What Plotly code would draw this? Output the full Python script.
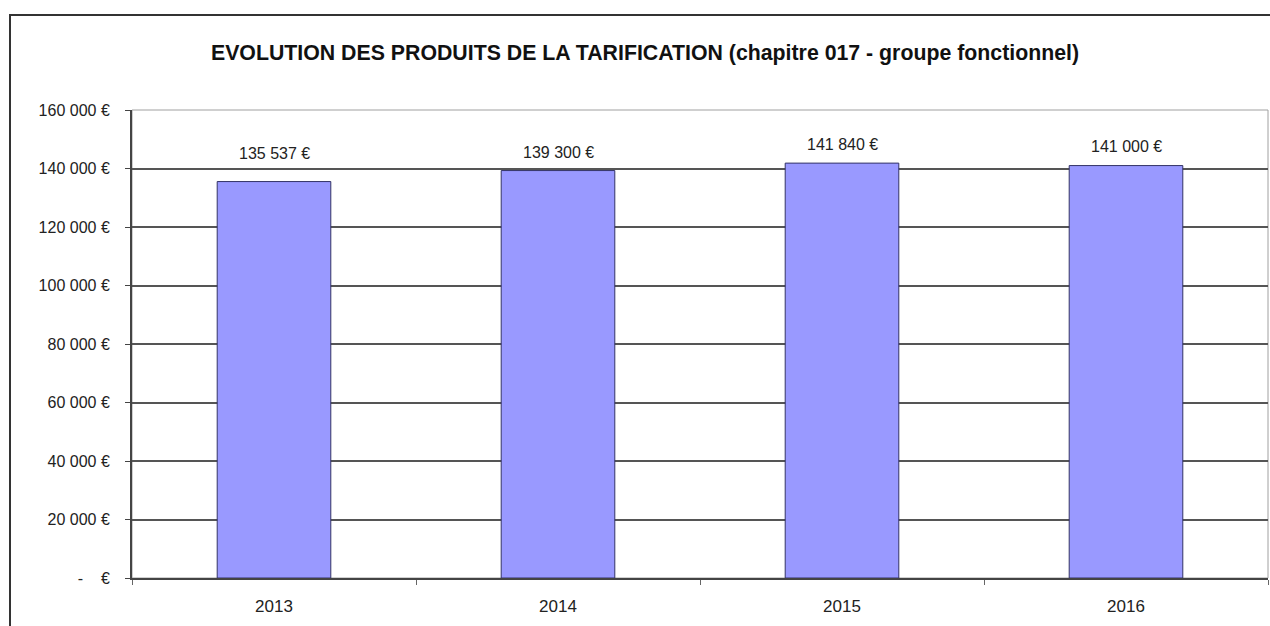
import plotly.graph_objects as go

years = ["2013", "2014", "2015", "2016"]
values = [135537, 139300, 141840, 141000]
value_labels = ["135 537 €", "139 300 €", "141 840 €", "141 000 €"]
y_ticks = [0, 20000, 40000, 60000, 80000, 100000, 120000, 140000, 160000]
y_tick_labels = ["-    €", "20 000 €", "40 000 €", "60 000 €", "80 000 €",
                 "100 000 €", "120 000 €", "140 000 €", "160 000 €"]
title = "EVOLUTION DES PRODUITS DE LA TARIFICATION (chapitre 017 - groupe fonctionnel)"

# style: vertical pixel offset of each value label centre above its bar
label_offsets = [28, 18, 19, 19]

FONT = "Liberation Sans, Arial, sans-serif"
TXT = "#222"

W, H = 1270, 626
ML, MR, MT, MB = 132, 2, 110, 48
PW, PH = W - ML - MR, H - MT - MB

fig = go.Figure()
fig.add_trace(go.Bar(
    x=years, y=values, width=0.4,
    marker=dict(color="#9999FF", line=dict(color="#333366", width=1)),
    hoverinfo="skip",
))

for i, (v, lab, off) in enumerate(zip(values, value_labels, label_offsets)):
    fig.add_annotation(x=i, y=v, xref="x", yref="y", text=lab, showarrow=False,
                       yanchor="middle", yshift=off,
                       font=dict(family=FONT, size=16, color=TXT))

# plot-area border (light grey)
fig.add_shape(type="rect", xref="paper", yref="paper", x0=0, y0=0, x1=1, y1=1,
              line=dict(color="#A0A0A0", width=1), layer="below")
# outer chart border
fig.add_shape(type="rect", xref="paper", yref="paper",
              x0=-(ML - 10) / PW, x1=1.05, y0=-0.5, y1=1 + (MT - 15) / PH,
              line=dict(color="#333", width=2))

fig.update_layout(
    width=W, height=H,
    margin=dict(l=ML, r=MR, t=MT, b=MB),
    paper_bgcolor="white", plot_bgcolor="white",
    showlegend=False,
    title=dict(text="<b>" + title + "</b>", x=645 / W, xanchor="center",
               y=1 - 53 / H, yanchor="middle",
               font=dict(family=FONT, size=21.3, color="#111")),
    xaxis=dict(type="category", tickson="boundaries", ticks="outside", ticklen=5,
               tickcolor="#666", showline=True, linecolor="#444", linewidth=2,
               showgrid=False, range=[-0.5, 3.5], ticklabelstandoff=12,
               tickfont=dict(family=FONT, size=17, color=TXT)),
    yaxis=dict(range=[0, 160000], tickvals=y_ticks, ticktext=y_tick_labels,
               ticks="outside", ticklen=5, tickcolor="#444",
               ticklabelstandoff=12,
               showline=True, linecolor="#444", linewidth=2,
               showgrid=True, gridcolor="#555", gridwidth=1.5,
               zeroline=False,
               tickfont=dict(family=FONT, size=16, color=TXT)),
)

fig.write_html(
    "out.html",
    config={"displayModeBar": False},
    post_script="document.body.style.margin='0';document.body.style.overflow='hidden';",
)
